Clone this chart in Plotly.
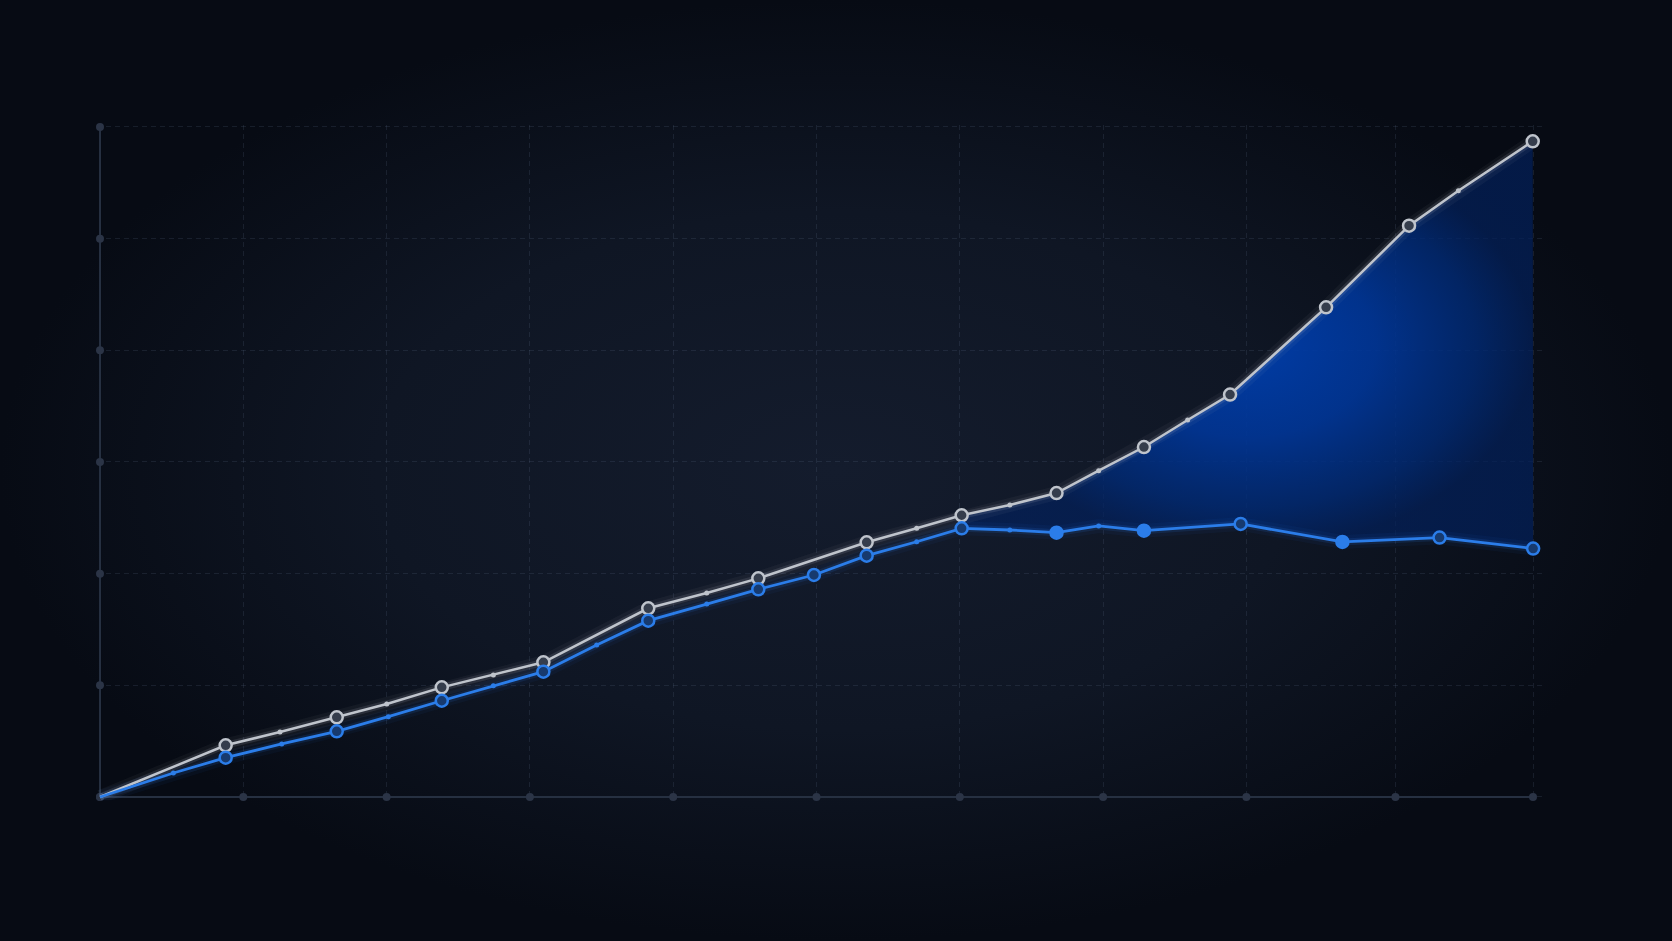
import plotly.graph_objects as go

# gridline positions in axis units
grid_x = [0, 1, 2, 3, 4, 5, 6, 7, 8, 9.04, 10]
grid_y = [0, 1, 2, 3, 4, 5, 6]

# both series start at the origin
origin_x, origin_y = 0, 0

# grey series: key points (rings) and in-between points (small dots)
grey_key_x = [0.877, 1.652, 2.385, 3.094, 3.826, 4.594, 5.350, 6.013, 6.675, 7.285, 7.886, 8.556, 9.135, 9.998]
grey_key_y = [0.463, 0.714, 0.982, 1.206, 1.690, 1.958, 2.281, 2.523, 2.722, 3.134, 3.604, 4.385, 5.116, 5.872]
grey_mid_x = [1.256, 2.001, 2.745, 4.234, 5.699, 6.349, 6.969, 7.590, 9.479]
grey_mid_y = [0.582, 0.833, 1.093, 1.827, 2.406, 2.615, 2.922, 3.376, 5.429]

# blue series
blue_key_x = [0.877, 1.652, 2.385, 3.094, 3.826, 4.594, 4.982, 5.350, 6.013, 6.675, 7.285, 7.960, 8.670, 9.348, 10.001]
blue_key_y = [0.352, 0.588, 0.862, 1.122, 1.579, 1.860, 1.988, 2.161, 2.406, 2.367, 2.385, 2.445, 2.284, 2.323, 2.225]
blue_mid_x = [0.512, 1.268, 2.012, 2.745, 3.466, 4.234, 5.699, 6.349, 6.969]
blue_mid_y = [0.215, 0.475, 0.719, 0.997, 1.361, 1.728, 2.286, 2.391, 2.427]

# gap between the lines is shaded from here on
fill_from_x = 6.0

W, H = 1672, 941
# pixel placement of the plot area
PX0, PX_UNIT = 100, 143.3
PY0, PY_UNIT = 797, 111.67
XR = [-0.02, 10.09]
YR = [-0.03, 6.02]

GREY = "#bfc4cc"
BLUE = "#2b7de9"


def merged(kx, ky, mx, my):
    pts = sorted([(origin_x, origin_y)] + list(zip(kx, ky)) + list(zip(mx, my)))
    return [p[0] for p in pts], [p[1] for p in pts]


grey_x, grey_y = merged(grey_key_x, grey_key_y, grey_mid_x, grey_mid_y)
blue_x, blue_y = merged(blue_key_x, blue_key_y, blue_mid_x, blue_mid_y)

fig = go.Figure()

# background vignette on a full-page subplot
fig.add_trace(go.Scatter(
    x=[0, 1, 1, 0, 0], y=[0, 0, 1, 1, 0], xaxis="x", yaxis="y",
    mode="lines", line=dict(width=0), fill="toself",
    fillgradient=dict(type="radial",
                      colorscale=[[0, "#141c2d"], [0.55, "#0f1624"], [1, "#070b14"]]),
    hoverinfo="skip", showlegend=False,
))

common = dict(xaxis="x2", yaxis="y2", hoverinfo="skip", showlegend=False)

# axis lines with dots at each gridline
fig.add_trace(go.Scatter(
    x=[0] * len(grid_y), y=grid_y, mode="lines+markers",
    line=dict(color="#263041", width=2),
    marker=dict(color="#2b3446", size=8), cliponaxis=False, **common,
))
fig.add_trace(go.Scatter(
    x=grid_x, y=[0] * len(grid_x), mode="lines+markers",
    line=dict(color="#263041", width=2),
    marker=dict(color="#2b3446", size=8), cliponaxis=False, **common,
))

# shaded gap between the two lines
fx = [x for x in grey_x if x >= fill_from_x]
fy = [y for x, y in zip(grey_x, grey_y) if x >= fill_from_x]
bx = [x for x in blue_x if x >= fill_from_x]
by = [y for x, y in zip(blue_x, blue_y) if x >= fill_from_x]
fig.add_trace(go.Scatter(
    x=fx + bx[::-1], y=fy + by[::-1], mode="lines", line=dict(width=0),
    fill="toself",
    fillgradient=dict(type="radial", colorscale=[
        [0, "rgba(0,62,172,0.95)"], [0.45, "rgba(0,54,152,0.9)"],
        [0.8, "rgba(0,42,118,0.8)"], [1, "rgba(2,32,92,0.7)"]]),
    **common,
))

# glow under the lines
for xs, ys, col in [(grey_x, grey_y, "rgba(190,196,205,"), (blue_x, blue_y, "rgba(43,125,233,")]:
    fig.add_trace(go.Scatter(x=xs, y=ys, mode="lines",
                             line=dict(color=col + "0.05)", width=14), **common))
    fig.add_trace(go.Scatter(x=xs, y=ys, mode="lines",
                             line=dict(color=col + "0.13)", width=7), **common))

# lines
fig.add_trace(go.Scatter(x=grey_x, y=grey_y, mode="lines",
                         line=dict(color=GREY, width=2.5), **common))
fig.add_trace(go.Scatter(x=blue_x, y=blue_y, mode="lines",
                         line=dict(color=BLUE, width=2.8), **common))

# small in-between dots
fig.add_trace(go.Scatter(x=grey_mid_x, y=grey_mid_y, mode="markers",
                         marker=dict(color=GREY, size=5), **common))
fig.add_trace(go.Scatter(x=blue_mid_x, y=blue_mid_y, mode="markers",
                         marker=dict(color=BLUE, size=5), **common))

# key point rings
fig.add_trace(go.Scatter(
    x=grey_key_x, y=grey_key_y, mode="markers", cliponaxis=False,
    marker=dict(color="#353d4c", size=12, line=dict(color=GREY, width=2.5)),
    **common,
))
blue_solid = [9, 10, 12]
blue_fill = [BLUE if i in blue_solid else "#173a6e" for i in range(len(blue_key_x))]
fig.add_trace(go.Scatter(
    x=blue_key_x, y=blue_key_y, mode="markers", cliponaxis=False,
    marker=dict(color=blue_fill, size=12, line=dict(color=BLUE, width=2.5)),
    **common,
))

x_left = PX0 + XR[0] * PX_UNIT
x_right = PX0 + XR[1] * PX_UNIT
y_bot = PY0 - YR[0] * PY_UNIT
y_top = PY0 - YR[1] * PY_UNIT

grid_style = dict(showgrid=True, gridcolor="rgba(105,125,155,0.17)", gridwidth=1,
                  griddash="5px,4px", zeroline=False, showline=False,
                  showticklabels=False, ticks="", fixedrange=True)

fig.update_layout(
    width=W, height=H,
    margin=dict(l=0, r=0, t=0, b=0),
    paper_bgcolor="#070b14",
    plot_bgcolor="rgba(0,0,0,0)",
    showlegend=False,
    xaxis=dict(domain=[0, 1], range=[0, 1], visible=False, fixedrange=True),
    yaxis=dict(domain=[0, 1], range=[0, 1], visible=False, fixedrange=True),
    xaxis2=dict(domain=[x_left / W, x_right / W], range=XR, anchor="y2",
                tickvals=grid_x, **grid_style),
    yaxis2=dict(domain=[(H - y_bot) / H, (H - y_top) / H], range=YR, anchor="x2",
                tickvals=grid_y, **grid_style),
)

fig.write_html("out.html", config={"displayModeBar": False},
               post_script="document.body.style.margin='0';document.body.style.overflow='hidden';")
